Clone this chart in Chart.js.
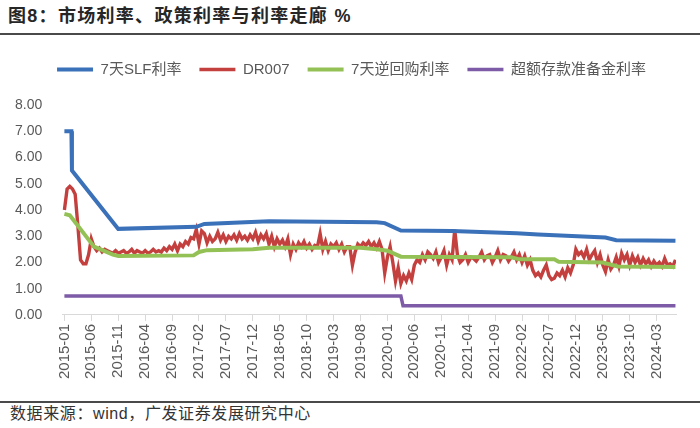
<!DOCTYPE html>
<html>
<head>
<meta charset="utf-8">
<script src="https://cdn.jsdelivr.net/npm/chart.js@4.4.1/dist/chart.umd.min.js"></script>
<style>
  body { margin: 0; background: #fff; width: 700px; height: 428px; position: relative; overflow: hidden; font-family: "Liberation Sans", "Noto Sans CJK SC", sans-serif; }
  .title { position: absolute; left: 8px; top: 3px; font-size: 18px; line-height: 26px; font-weight: bold; color: #262626; letter-spacing: 1.3px; font-family: "Liberation Sans", "Noto Sans CJK SC", sans-serif; }
  .rule { position: absolute; left: 0; width: 700px; height: 2px; background: #4a4a4a; }
  .source { position: absolute; left: 10px; top: 403px; font-size: 16px; line-height: 22px; color: #333; letter-spacing: 0.6px; }
  #wrap { position: absolute; left: 0; top: 36px; width: 700px; height: 362px; }
</style>
</head>
<body>
<div class="title">图8：市场利率、政策利率与利率走廊 %</div>
<div class="rule" style="top:33px"></div>
<div id="wrap"><canvas id="chart" width="700" height="362"></canvas></div>
<div class="rule" style="top:401px;height:1.5px"></div>
<div class="source">数据来源：wind，广发证券发展研究中心</div>

<script>
// x axis is in months since 2015-01
const tickMonths = [0, 5, 10, 15, 20, 25, 30, 35, 40, 45, 50, 55, 60, 65, 70, 75, 80, 85, 90, 95, 100, 105, 110];
const tickLabels = ['2015-01', '2015-06', '2015-11', '2016-04', '2016-09', '2017-02', '2017-07', '2017-12',
  '2018-05', '2018-10', '2019-03', '2019-08', '2020-01', '2020-06', '2020-11', '2021-04', '2021-09',
  '2022-02', '2022-07', '2022-12', '2023-05', '2023-10', '2024-03'];

// 7天SLF利率 (change points)
const slfMonths = [0, 1.3, 1.4, 10, 24.5, 26, 38, 58, 59.5, 62.5, 72, 84, 88, 100.5, 102.5, 113.5];
const slfValues = [7.0, 7.0, 5.5, 3.28, 3.36, 3.47, 3.57, 3.53, 3.5, 3.22, 3.2, 3.11, 3.07, 2.95, 2.85, 2.83];

// 7天逆回购利率
const repoMonths = [0, 1, 5.5, 9, 10, 24, 25, 26.5, 35, 38, 55, 58, 60, 62.5, 83, 84.5, 91, 91.8, 100, 102.8, 113.5];
const repoValues = [3.85, 3.8, 2.6, 2.3, 2.25, 2.27, 2.4, 2.47, 2.5, 2.56, 2.56, 2.5, 2.45, 2.22, 2.2, 2.12, 2.12, 2.03, 2.0, 1.85, 1.83];

// 超额存款准备金利率
const excessMonths = [0, 62.5, 62.9, 113.5];
const excessValues = [0.72, 0.72, 0.35, 0.35];

// DR007, two readings per month from 2015-01
const dr007 = [
  4.0,4.8, 4.9,4.8, 4.6,3.4, 2.1,1.95, 1.95,2.3, 2.9,2.6, 2.45,2.55, 2.4,2.5, 2.45,2.4, 2.35,2.45, 2.35,2.4, 2.45,2.35,
  2.4,2.5, 2.35,2.45, 2.4,2.35, 2.45,2.35, 2.4,2.5, 2.4,2.45, 2.4,2.55, 2.45,2.6, 2.5,2.7, 2.45,2.7, 2.6,2.8, 2.7,2.95,
  2.9,3.25, 2.7,3.2, 3.1,2.75, 3.0,2.8, 2.9,3.15, 2.85,3.05, 2.8,3.0, 2.9,3.05, 2.85,3.1, 2.9,3.0, 2.85,3.05, 2.9,3.15,
  2.8,3.05, 2.9,3.1, 2.7,3.0, 2.6,2.9, 2.7,2.85, 2.6,2.9, 2.3,2.7, 2.5,2.75, 2.6,2.8, 2.55,2.7, 2.5,2.65, 2.6,3.1,
  2.5,2.8, 2.45,2.7, 2.6,2.75, 2.5,2.7, 2.4,2.6, 2.6,1.9, 2.4,2.7, 2.6,2.75, 2.65,2.8, 2.6,2.75, 2.55,2.8, 2.5,1.6,
  2.2,2.6, 2.0,1.3, 1.8,1.2, 1.5,1.3, 1.6,1.35, 1.9,2.1, 2.0,2.3, 2.1,2.4, 2.3,2.15, 2.4,2.0, 2.2,2.45, 1.9,2.3,
  2.1,3.25, 2.3,2.0, 2.1,2.3, 2.0,2.2, 2.15,2.05, 2.2,2.4, 2.1,2.25, 2.3,2.0, 2.2,2.45, 2.1,2.3, 2.25,2.05, 2.2,2.4,
  2.1,2.3, 2.0,2.25, 1.9,2.1, 1.7,1.5, 1.6,1.45, 1.7,1.9, 1.5,1.35, 1.4,1.6, 1.5,1.7, 1.45,1.8, 1.6,1.9, 2.5,2.3,
  2.4,2.2, 2.5,2.1, 2.3,2.45, 2.0,2.3, 1.9,1.65, 2.1,1.75, 1.9,2.2, 1.85,2.35, 2.1,2.3, 1.9,2.25, 2.0,2.2, 1.9,2.15,
  1.95,2.1, 1.85,2.05, 1.9,2.0, 1.85,2.15, 1.9,1.95, 1.85,2.1
];

const pts = (xs, ys) => xs.map((x, i) => ({ x: x, y: ys[i] }));
const drPoints = dr007.map((v, i) => ({ x: i / 2, y: v }));

// extra room between legend and plot, legend nudged right
const legendGap = {
  id: 'legendGap',
  beforeInit(chart) {
    const fit = chart.legend.fit;
    chart.legend.fit = function () {
      fit.bind(chart.legend)();
      this.height += 18;
    };
  },
  afterLayout(chart) {
    chart.legend.left += 12;
    chart.legend.right += 12;
  }
};

const ctx = document.getElementById('chart').getContext('2d');
new Chart(ctx, {
  type: 'line',
  data: {
    datasets: [
      { label: '7天SLF利率', data: pts(slfMonths, slfValues), borderColor: '#3a71b9', backgroundColor: '#3a71b9', borderWidth: 4, order: 1 },
      { label: 'DR007', data: drPoints, borderColor: '#c4403e', backgroundColor: '#c4403e', borderWidth: 3.4, order: 3 },
      { label: '7天逆回购利率', data: pts(repoMonths, repoValues), borderColor: '#94c156', backgroundColor: '#94c156', borderWidth: 4, order: 0 },
      { label: '超额存款准备金利率', data: pts(excessMonths, excessValues), borderColor: '#7d5ba6', backgroundColor: '#7d5ba6', borderWidth: 3.5, order: 2 }
    ]
  },
  plugins: [legendGap],
  options: {
    responsive: false,
    animation: false,
    elements: { point: { radius: 0 }, line: { tension: 0, borderCapStyle: 'butt' } },
    layout: { padding: { left: 3, right: 24, top: 8, bottom: 16 } },
    plugins: {
      tooltip: { enabled: false },
      legend: {
        position: 'top',
        labels: {
          sort: (a, b) => a.datasetIndex - b.datasetIndex,
          usePointStyle: true,
          pointStyle: 'line',
          pointStyleWidth: 36,
          padding: 18,
          color: '#595959',
          font: { size: 15, family: '"Liberation Sans", "Noto Sans CJK SC", sans-serif' }
        }
      }
    },
    scales: {
      x: {
        type: 'linear',
        min: -0.4,
        max: 113.6,
        afterBuildTicks: (axis) => { axis.ticks = tickMonths.map(v => ({ value: v })); },
        ticks: {
          autoSkip: false,
          minRotation: 90,
          maxRotation: 90,
          color: '#595959',
          font: { size: 15, family: '"Liberation Sans", sans-serif' },
          callback: (v) => tickLabels[tickMonths.indexOf(v)]
        },
        grid: { drawOnChartArea: false, color: '#d9d9d9', tickLength: 6 },
        border: { color: '#d9d9d9', width: 1 }
      },
      y: {
        min: 0,
        max: 8,
        ticks: {
          stepSize: 1,
          padding: 12,
          color: '#595959',
          font: { size: 14, family: '"Liberation Sans", sans-serif' },
          callback: (v) => v.toFixed(2)
        },
        grid: { display: false },
        border: { display: false }
      }
    }
  }
});
</script>
</body>
</html>
